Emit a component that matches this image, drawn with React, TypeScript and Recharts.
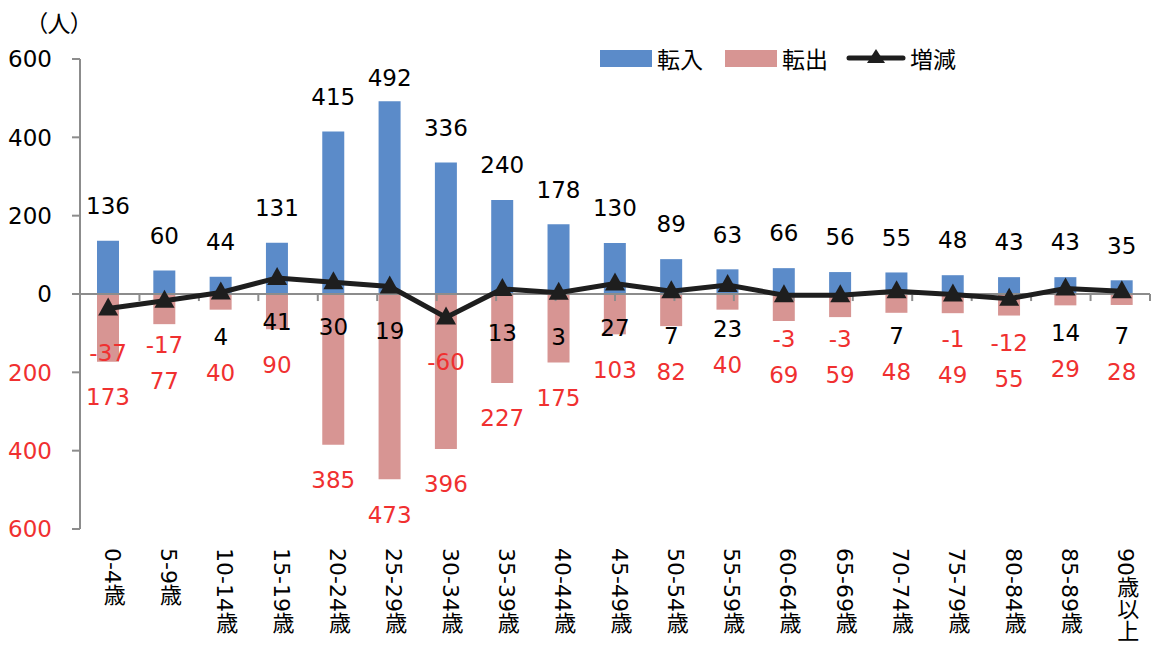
import React from 'react'
import { ComposedChart, Bar, Line, XAxis, YAxis, ReferenceLine, LabelList } from 'recharts'

const categories = ['0-4歳', '5-9歳', '10-14歳', '15-19歳', '20-24歳', '25-29歳', '30-34歳', '35-39歳', '40-44歳', '45-49歳', '50-54歳', '55-59歳', '60-64歳', '65-69歳', '70-74歳', '75-79歳', '80-84歳', '85-89歳', '90歳以上']
const inflow = [136, 60, 44, 131, 415, 492, 336, 240, 178, 130, 89, 63, 66, 56, 55, 48, 43, 43, 35]
const outflow = [173, 77, 40, 90, 385, 473, 396, 227, 175, 103, 82, 40, 69, 59, 48, 49, 55, 29, 28]
const net = [-37, -17, 4, 41, 30, 19, -60, 13, 3, 27, 7, 23, -3, -3, 7, -1, -12, 14, 7]
const yTicks = [-600, -400, -200, 0, 200, 400, 600]

const BLUE = '#5b8bc9'
const PINK = '#d79593'
const RED = '#f03030'
const AXIS = '#8c8c8c'
const FONT = "'DejaVu Sans', 'Noto Sans CJK JP', sans-serif"
const JP = "'Noto Sans CJK JP', sans-serif"

const data = categories.map((name, i) => ({
    name,
    inflow: inflow[i],
    outflow: -outflow[i],
    net: net[i],
}))

// tick marks on the zero line sit on category boundaries
const boundaries = categories.map((_, i) => i + 1)

const Triangle = (props: any) => {
    const { cx, cy } = props
    if (cx == null || cy == null) return null
    return <polygon points={`${cx},${cy - 11} ${cx - 10},${cy + 7} ${cx + 10},${cy + 7}`} fill="#1e1e1e" />
}

const YTick = ({ x, y, payload }: any) => (
    <text x={x} y={y} dy="0.36em" textAnchor="end" fontSize={23} fontFamily={FONT} fill={payload.value < 0 ? RED : '#000'}>
        {Math.abs(payload.value)}
    </text>
)

const XTick = ({ x, y, payload }: any) => (
    <text x={x + 4} y={y + 19} fontSize={22} fontFamily={FONT} fill="#000" style={{ writingMode: 'vertical-rl' }}>
        {payload.value}
    </text>
)

const InLabel = ({ x, y, width, value }: any) => (
    <text x={x + width / 2} y={Math.max(y - 35, 78)} dy="0.36em" textAnchor="middle" fontSize={23} fontFamily={FONT} fill="#000">
        {value}
    </text>
)

const OutLabel = ({ x, y, width, height, value, index }: any) => {
    const zeroY = Math.min(y, y + height)
    const bottom = Math.max(y, y + height)
    const perUnit = (bottom - zeroY) / Math.abs(value)
    const netY = zeroY - net[index] * perUnit
    const ly = Math.max(bottom + 35, netY + 44 + 36)
    return (
        <text x={x + width / 2} y={ly} dy="0.36em" textAnchor="middle" fontSize={23} fontFamily={FONT} fill={RED}>
            {Math.abs(value)}
        </text>
    )
}

const NetLabel = ({ x, y, value }: any) => (
    <text x={x} y={y + 44} dy="0.36em" textAnchor="middle" fontSize={23} fontFamily={FONT} fill={value < 0 ? RED : '#000'}>
        {value}
    </text>
)

const legendText: React.CSSProperties = { fontFamily: JP, fontSize: 23, color: '#000', marginLeft: 5, lineHeight: '24px' }

export default function App() {
    return (
        <div style={{ position: 'absolute', left: 0, top: 0, width: 1151, height: 648, background: '#fff' }}>
            <div style={{ position: 'absolute', left: 36, top: 8, fontFamily: JP, fontSize: 23, fontFeatureSettings: "'palt'", lineHeight: '28px' }}>
                （人）
            </div>
            <div style={{ position: 'absolute', left: 600, top: 46, display: 'flex', alignItems: 'center' }}>
                <span style={{ width: 52, height: 17, background: BLUE, display: 'inline-block' }} />
                <span style={legendText}>転入</span>
                <span style={{ width: 52, height: 17, background: PINK, display: 'inline-block', marginLeft: 22 }} />
                <span style={legendText}>転出</span>
                <svg width={60} height={24} style={{ marginLeft: 18 }}>
                    <line x1={3} y1={12} x2={57} y2={12} stroke="#1e1e1e" strokeWidth={5} strokeLinecap="round" />
                    <polygon points="30,3 21,17 39,17" fill="#1e1e1e" />
                </svg>
                <span style={{ ...legendText, marginLeft: 4 }}>増減</span>
            </div>
            <ComposedChart
                width={1151}
                height={648}
                data={data}
                stackOffset="sign"
                margin={{ top: 59, right: 1, bottom: 0, left: 0 }}
                style={{ position: 'absolute', left: 0, top: 0 }}
            >
                <XAxis dataKey="name" interval={0} axisLine={false} tickLine={false} tickSize={0} tickMargin={0} height={119} tick={<XTick />} />
                <XAxis xAxisId="grid" type="number" domain={[0, 19]} hide />
                <YAxis
                    domain={[-600, 600]}
                    ticks={yTicks}
                    width={80}
                    tickSize={8}
                    tickMargin={20}
                    axisLine={{ stroke: AXIS, strokeWidth: 2 }}
                    tickLine={{ stroke: AXIS, strokeWidth: 2 }}
                    tick={<YTick />}
                />
                <Bar dataKey="inflow" stackId="s" fill={BLUE} barSize={22} isAnimationActive={false}>
                    <LabelList dataKey="inflow" content={<InLabel />} />
                </Bar>
                <Bar dataKey="outflow" stackId="s" fill={PINK} barSize={22} isAnimationActive={false}>
                    <LabelList dataKey="outflow" content={<OutLabel />} />
                </Bar>
                <ReferenceLine y={0} stroke={AXIS} strokeWidth={2} />
                {boundaries.map((b) => (
                    <ReferenceLine
                        key={b}
                        xAxisId="grid"
                        segment={[{ x: b, y: 0 }, { x: b, y: -18 }]}
                        stroke={AXIS}
                        strokeWidth={2}
                    />
                ))}
                <Line
                    dataKey="net"
                    stroke="#1e1e1e"
                    strokeWidth={5}
                    dot={<Triangle />}
                    activeDot={false}
                    isAnimationActive={false}
                >
                    <LabelList dataKey="net" content={<NetLabel />} />
                </Line>
            </ComposedChart>
        </div>
    )
}
